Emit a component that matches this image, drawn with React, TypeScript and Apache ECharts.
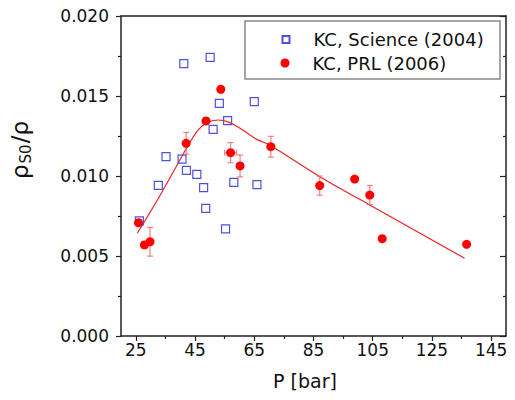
import React, { useEffect, useRef } from "react";
import * as echarts from "echarts";

// KC, Science (2004) — open squares
const scienceP = [26.2, 32.6, 35.2, 40.6, 41.2, 42.1, 45.6, 47.9, 48.6, 50.1, 51.1, 53.2, 55.3, 56.0, 58.1, 65.0, 65.9];
const scienceV = [0.00719, 0.00942, 0.01121, 0.01106, 0.01702, 0.01035, 0.0101, 0.00927, 0.00798, 0.01742, 0.01292, 0.01454, 0.00669, 0.01346, 0.0096, 0.01465, 0.00946];

// KC, PRL (2006) — filled circles with error bars
const prlP = [25.9, 27.9, 29.8, 42.0, 48.7, 53.7, 57.0, 60.2, 70.6, 87.1, 98.9, 104.0, 108.2, 136.7];
const prlV = [0.00708, 0.00569, 0.00589, 0.01204, 0.01344, 0.01542, 0.01146, 0.01063, 0.01183, 0.0094, 0.00981, 0.00881, 0.00608, 0.00573];
const prlErrV = [0.0002, 0.0002, 0.0009, 0.00068, 0.0002, 0.0002, 0.00063, 0.00068, 0.00065, 0.0006, 0.0001, 0.0006, 0.0001, 0.0001];
const prlErrP = [0, 0, 0, 0, 0, 0.5, 2.0, 0, 0, 0, 0, 0, 0, 0];

// Guide line through PRL data
const fitP = [25.5, 32.3, 39.9, 42.0, 45.6, 48.9, 52.8, 56.2, 60.2, 65.8, 70.2, 87.1, 104.0, 136.0];
const fitV = [0.00642, 0.0085, 0.011, 0.0117, 0.01277, 0.01333, 0.0135, 0.01338, 0.01298, 0.01229, 0.01194, 0.00996, 0.00819, 0.00486];

const xMajorTicks = [25, 45, 65, 85, 105, 125, 145];
const xMinorTicks = [35, 55, 75, 95, 115, 135];

const SCI_NAME = "KC, Science (2004)";
const PRL_NAME = "KC, PRL (2006)";

const FONT = "DejaVu Sans";
const AXIS_COLOR = "#222";

export default function App() {
  const ref = useRef<HTMLDivElement>(null);

  useEffect(() => {
    document.body.style.margin = "0";
    const chart = echarts.init(ref.current!, null, { renderer: "svg" });

    const scienceData = scienceP.map((p, i) => [p, scienceV[i]]);
    const prlData = prlP.map((p, i) => [p, prlV[i]]);
    const errData = prlP.map((p, i) => [p, prlV[i], prlErrP[i], prlErrV[i]]);
    const fitData = fitP.map((p, i) => [p, fitV[i]]);

    const errColor = "rgba(240,90,90,0.75)";

    const option: any = {
      animation: false,
      backgroundColor: "#fff",
      grid: { left: 121, right: 9, top: 16, bottom: 64 },
      xAxis: [
        {
          type: "value",
          min: 20,
          max: 150,
          position: "bottom",
          axisLine: { show: true, lineStyle: { color: AXIS_COLOR, width: 1.5 } },
          axisTick: {
            show: true,
            customValues: xMajorTicks,
            length: 5,
            lineStyle: { color: AXIS_COLOR, width: 1.2 },
          },
          axisLabel: {
            customValues: xMajorTicks,
            fontSize: 17,
            fontFamily: FONT,
            color: "#111",
            margin: 5,
          },
          splitLine: { show: false },
          name: "P [bar]",
          nameLocation: "middle",
          nameGap: 35,
          nameTextStyle: { fontSize: 19, fontFamily: FONT, color: "#111", padding: [0, 17, 0, 0] },
        },
        {
          type: "value",
          min: 20,
          max: 150,
          position: "bottom",
          axisLine: { show: false },
          axisTick: {
            show: true,
            customValues: xMinorTicks,
            length: 3,
            lineStyle: { color: AXIS_COLOR, width: 1.2 },
          },
          axisLabel: { show: false },
          splitLine: { show: false },
        },
        {
          type: "value",
          min: 20,
          max: 150,
          position: "top",
          axisLine: { show: true, onZero: false, lineStyle: { color: AXIS_COLOR, width: 1.5 } },
          axisTick: { show: false },
          axisLabel: { show: false },
          splitLine: { show: false },
        },
      ],
      yAxis: [
        {
          type: "value",
          min: 0,
          max: 0.02,
          interval: 0.005,
          position: "left",
          axisLine: { show: true, onZero: false, lineStyle: { color: AXIS_COLOR, width: 1.5 } },
          axisTick: { show: true, length: 5, lineStyle: { color: AXIS_COLOR, width: 1.2 } },
          minorTick: { show: true, splitNumber: 2, length: 3, lineStyle: { color: AXIS_COLOR, width: 1.2 } },
          axisLabel: {
            fontSize: 17,
            fontFamily: FONT,
            color: "#111",
            margin: 12,
            formatter: (v: number) => v.toFixed(3),
          },
          splitLine: { show: false },
          minorSplitLine: { show: false },
          name: "{r|ρ}{s|S0}{r|/ρ}",
          nameLocation: "middle",
          nameRotate: 90,
          nameGap: 88,
          nameTextStyle: {
            fontFamily: FONT,
            color: "#111",
            padding: [0, 0, 0, 52],
            rich: {
              r: { fontSize: 23, fontFamily: FONT, color: "#111", lineHeight: 26 },
              s: { fontSize: 15, fontFamily: FONT, color: "#111", lineHeight: 26, verticalAlign: "bottom", padding: [0, 1, 0, 1] },
            },
          },
        },
        {
          type: "value",
          min: 0,
          max: 0.02,
          interval: 0.005,
          position: "right",
          axisLine: { show: true, onZero: false, lineStyle: { color: AXIS_COLOR, width: 1.5 } },
          axisTick: { show: true, inside: true, length: 6, lineStyle: { color: AXIS_COLOR, width: 1.2 } },
          minorTick: { show: true, splitNumber: 2, length: 3, lineStyle: { color: AXIS_COLOR, width: 1.2 } },
          axisLabel: { show: false },
          splitLine: { show: false },
          minorSplitLine: { show: false },
        },
      ],
      legend: [
        {
          data: [SCI_NAME],
          orient: "vertical",
          left: 281.5,
          top: 29.5,
          padding: 0,
          itemWidth: 7,
          itemHeight: 7,
          textStyle: { fontSize: 18, fontFamily: FONT, color: "#111", lineHeight: 20, padding: [0, 0, 0, 19] },
          selectedMode: false,
        },
        {
          data: [PRL_NAME],
          orient: "vertical",
          left: 280.5,
          top: 53,
          padding: 0,
          itemWidth: 9,
          itemHeight: 9,
          textStyle: { fontSize: 18, fontFamily: FONT, color: "#111", lineHeight: 20, padding: [0, 0, 0, 18] },
          selectedMode: false,
        },
      ],
      graphic: [
        {
          type: "rect",
          shape: { x: 245, y: 21, width: 255, height: 58 },
          style: { fill: "none", stroke: "#888", lineWidth: 1.5 },
          silent: true,
          z: 100,
        },
      ],
      series: [
        {
          name: "fit",
          type: "line",
          data: fitData,
          smooth: 0.25,
          showSymbol: false,
          symbol: "none",
          lineStyle: { color: "#ee2222", width: 1.2 },
          z: 1,
        },
        {
          name: SCI_NAME,
          type: "scatter",
          data: scienceData,
          symbol: "rect",
          symbolSize: 8,
          itemStyle: { color: "rgba(255,255,255,0)", borderColor: "#5050dc", borderWidth: 1.2, opacity: 1 },
          z: 2,
        },
        {
          name: "errorbars",
          type: "custom",
          data: errData,
          z: 3,
          renderItem: (params: any, api: any) => {
            const x = api.value(0);
            const y = api.value(1);
            const ex = api.value(2);
            const ey = api.value(3);
            const children: any[] = [];
            const cap = 3;
            const st = { stroke: errColor, lineWidth: 1.2 };
            if (ey > 0) {
              const t = api.coord([x, y + ey]);
              const b = api.coord([x, y - ey]);
              children.push({ type: "line", shape: { x1: t[0], y1: t[1], x2: b[0], y2: b[1] }, style: st });
              children.push({ type: "line", shape: { x1: t[0] - cap, y1: t[1], x2: t[0] + cap, y2: t[1] }, style: st });
              children.push({ type: "line", shape: { x1: b[0] - cap, y1: b[1], x2: b[0] + cap, y2: b[1] }, style: st });
            }
            if (ex > 0) {
              const l = api.coord([x - ex, y]);
              const r = api.coord([x + ex, y]);
              children.push({ type: "line", shape: { x1: l[0], y1: l[1], x2: r[0], y2: r[1] }, style: st });
              children.push({ type: "line", shape: { x1: l[0], y1: l[1] - cap, x2: l[0], y2: l[1] + cap }, style: st });
              children.push({ type: "line", shape: { x1: r[0], y1: r[1] - cap, x2: r[0], y2: r[1] + cap }, style: st });
            }
            return { type: "group", children };
          },
        },
        {
          name: PRL_NAME,
          type: "scatter",
          data: prlData,
          symbol: "circle",
          symbolSize: 9,
          itemStyle: { color: "#ff0000", opacity: 1 },
          z: 4,
        },
      ],
    };

    chart.setOption(option);
    return () => chart.dispose();
  }, []);

  return (
    <div
      ref={ref}
      style={{ position: "fixed", left: 0, top: 0, width: 515, height: 400, background: "#fff" }}
    />
  );
}
